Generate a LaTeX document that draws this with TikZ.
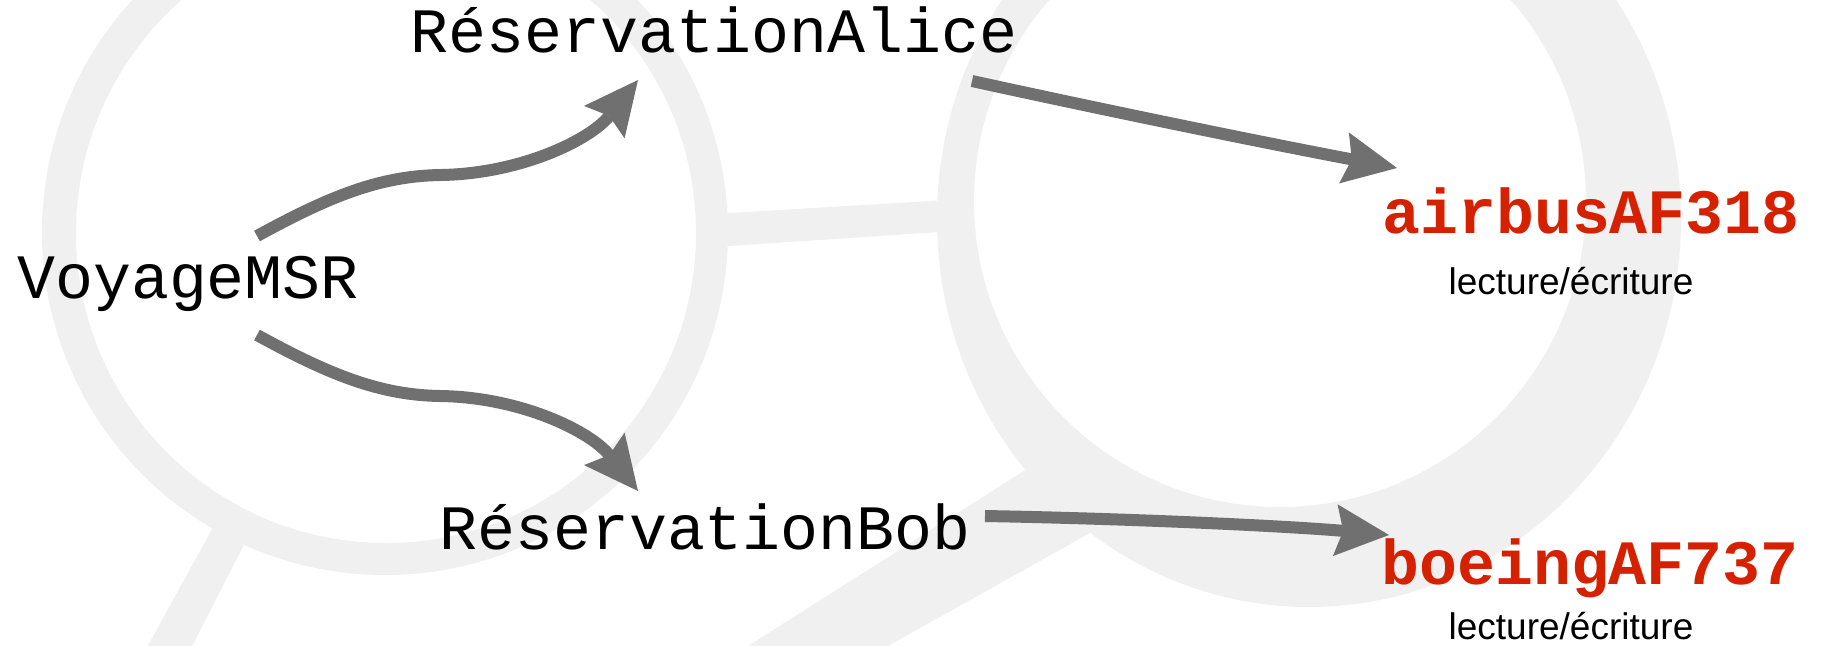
\documentclass[tikz,border=0pt]{standalone}
\usepackage{fontspec}
\setmainfont{Liberation Sans}
\setmonofont{Liberation Mono}
\usepackage{tikz}
\usetikzlibrary{arrows.meta}
\definecolor{fondgris}{RGB}{241,240,241}
\definecolor{liengris}{RGB}{112,112,112}
\definecolor{rouge}{RGB}{213,33,0}
\tikzstyle{every node}=[inner sep=0pt,anchor=base]
\tikzstyle{objet}=[font=\objf]
\tikzstyle{partage}=[font=\objbf,text=rouge]
\tikzstyle{acces}=[font=\notef]
\tikzstyle{lien}=[draw=liengris,line width=6pt,-{Stealth[length=27pt,width=26pt,inset=4pt,line width=0pt]}]
\tikzstyle{fond}=[fill=fondgris]
\newcommand{\objf}{\ttfamily\fontsize{31.6}{36}\selectfont}
\newcommand{\objbf}{\ttfamily\bfseries\fontsize{31.6}{36}\selectfont}
\newcommand{\notef}{\fontsize{18.5}{22}\selectfont}

\begin{document}
\begin{tikzpicture}[x=0.5pt,y=-0.5pt]
  \useasboundingbox (0,0) rectangle (1822,645);
  % fond
  \begin{scope}
    \clip (0,0) rectangle (1822,645);
    \fill[fond,even odd rule] (385,232) circle (343) (386,233) circle (310);
    \fill[fond,even odd rule] (1309,219) ellipse [x radius=372,y radius=388] (1280,201) circle (306);
    \fill[fond] (705,214.5) -- (955,199.5) -- (955,231) -- (705,247.6) -- cycle;
    \fill[fond] (222,511) -- (252,529) -- (185,660) -- (140,660) -- cycle;
    \fill[fond] (1060,448) -- (1090,533) -- (863,660) -- (726,660) -- cycle;
  \end{scope}

  \node[objet] (voyage) at (188,298) {VoyageMSR};
  \node[objet] (alice) at (714,52.6) {RéservationAlice};
  \node[objet] (bob) at (705,549) {RéservationBob};
  \node[partage] (airbus) at (1591,233.6) {airbusAF318};
  \node[acces] (airbusacc) at (1571,294) {lecture/écriture};
  \node[partage] (boeing) at (1590,584) {boeingAF737};
  \node[acces] (boeingacc) at (1571,639) {lecture/écriture};

  \coordinate (voyhaut) at (257,236);
  \coordinate (alicein) at (638,80);
  \coordinate (voybas) at (257,335);
  \coordinate (bobin) at (638,491);
  \coordinate (aliceout) at (972,81);
  \coordinate (airbusin) at (1397,168);
  \coordinate (bobout) at (985,516);
  \coordinate (boeingin) at (1389,535);

  \draw[lien] (voyhaut) .. controls (330,196) and (380,176) .. (440,175)
    .. controls (520,174) and (590,140) .. (alicein);
  \draw[lien] (voybas) .. controls (330,375) and (380,395) .. (440,396)
    .. controls (520,397) and (590,431) .. (bobin);
  \draw[lien] (aliceout) .. controls (1100,109) and (1250,140) .. (airbusin);
  \draw[lien] (bobout) .. controls (1150,519) and (1300,527) .. (boeingin);
\end{tikzpicture}
\end{document}
